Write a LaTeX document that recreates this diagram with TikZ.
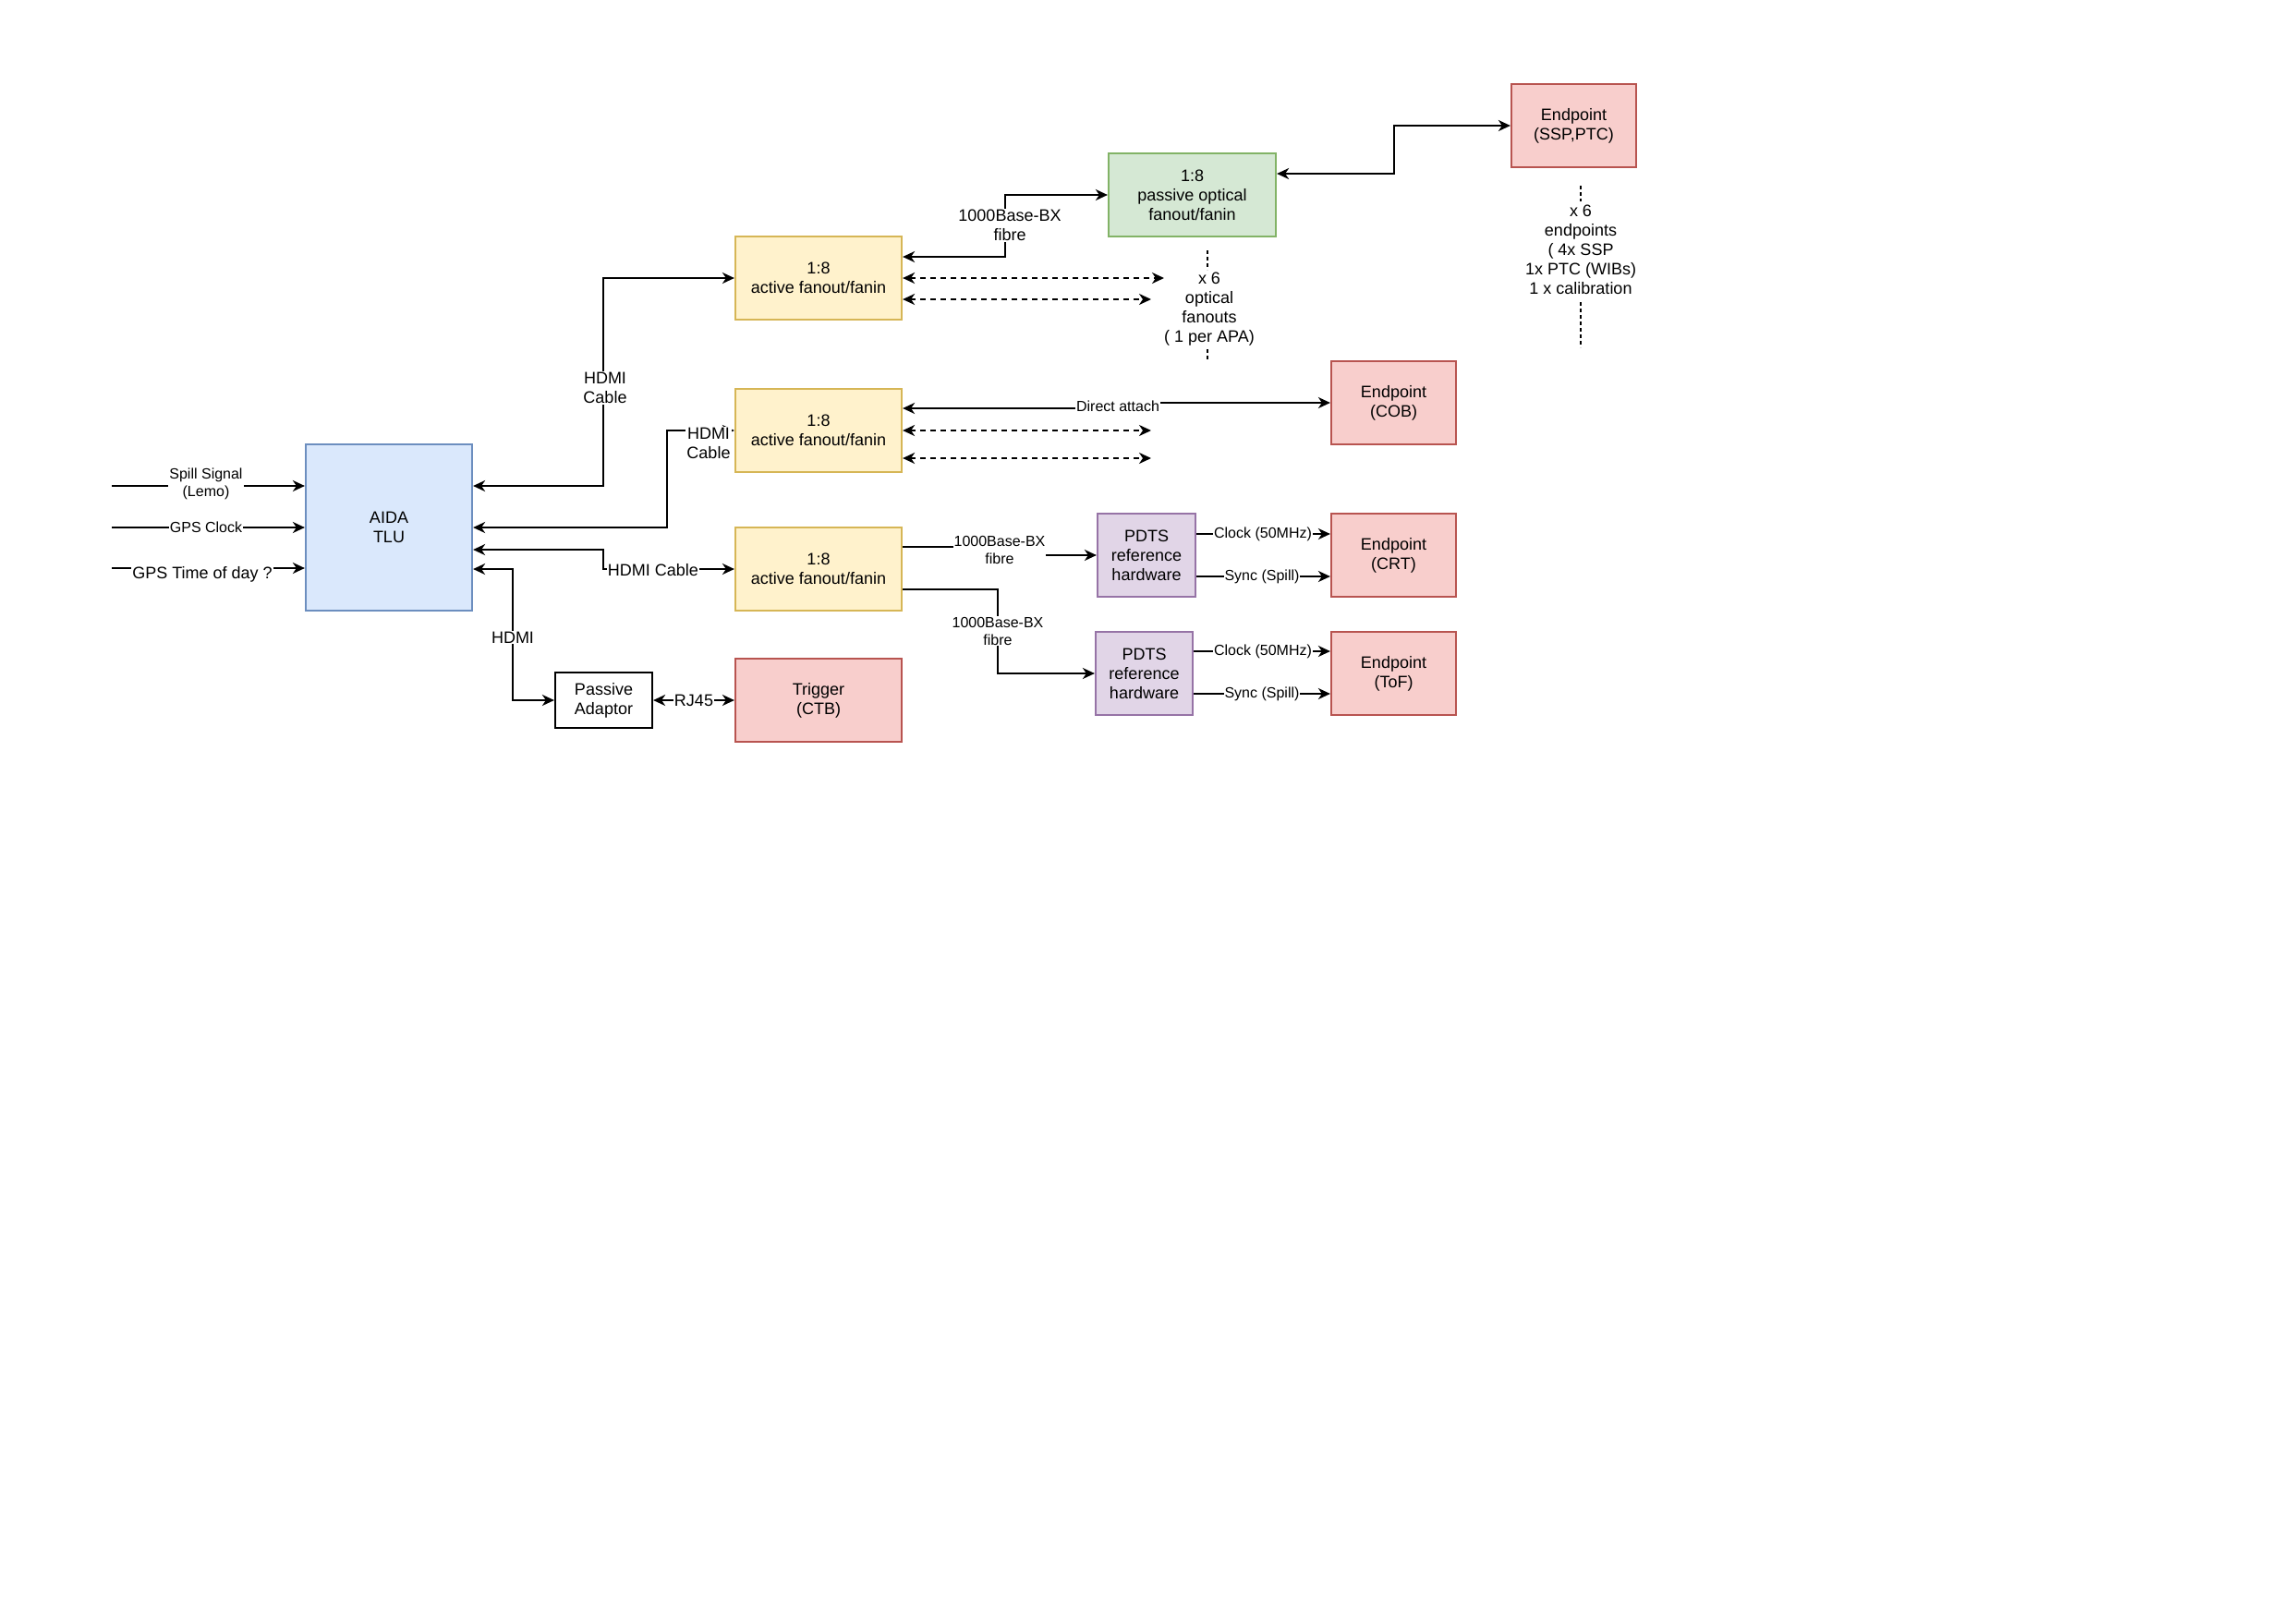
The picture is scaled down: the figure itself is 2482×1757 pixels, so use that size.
\documentclass[tikz,border=0pt]{standalone}
\usepackage{fontspec}
\setmainfont{Liberation Sans}
\usetikzlibrary{arrows.meta,calc}
\definecolor{bluef}{HTML}{DAE8FC}\definecolor{blued}{HTML}{6C8EBF}
\definecolor{yelf}{HTML}{FFF2CC}\definecolor{yeld}{HTML}{D6B656}
\definecolor{grnf}{HTML}{D5E8D4}\definecolor{grnd}{HTML}{82B366}
\definecolor{redf}{HTML}{F8CECC}\definecolor{redd}{HTML}{B85450}
\definecolor{purf}{HTML}{E1D5E7}\definecolor{purd}{HTML}{9673A6}
\tikzset{
  box/.style={draw, line width=2.2pt, align=center, font=\fontsize{18}{21}\selectfont, inner sep=0pt, minimum width=180pt, minimum height=90pt},
  bluebox/.style={box, fill=bluef, draw=blued},
  yelbox/.style={box, fill=yelf, draw=yeld},
  grnbox/.style={box, fill=grnf, draw=grnd},
  redbox/.style={box, fill=redf, draw=redd},
  purbox/.style={box, fill=purf, draw=purd, minimum width=105pt},
  epbox/.style={redbox, minimum width=135pt},
  plainbox/.style={box, fill=white, draw=black, minimum width=105pt, minimum height=60pt},
  tip/.style={},
  conn/.style={line width=2pt, line join=miter},
  arr/.style={conn, -{Stealth[length=13pt,width=12pt,inset=4pt]}},
  biarr/.style={conn, {Stealth[length=13pt,width=12pt,inset=4pt]}-{Stealth[length=13pt,width=12pt,inset=4pt]}},
  dasharr/.style={biarr, dash pattern=on 6pt off 5pt},
  dotline/.style={line width=2pt, dash pattern=on 4pt off 3pt},
  lbl/.style={fill=white, inner sep=1pt, align=center, font=\fontsize{16}{19}\selectfont},
  lblb/.style={lbl, font=\fontsize{18}{21}\selectfont},
  note/.style={align=center, inner sep=0pt, font=\fontsize{18}{21}\selectfont},
}
\begin{document}
\begin{tikzpicture}[x=1pt,y=-1pt]
\useasboundingbox[fill=white] (0,0) rectangle (2482,1757);

% boxes
\node[bluebox, minimum height=180pt] (tlu) at (421,571) {AIDA\\TLU};
\node[yelbox] (f1) at (886,301) {1:8\\active fanout/fanin};
\node[yelbox] (f2) at (886,466) {1:8\\active fanout/fanin};
\node[yelbox] (f3) at (886,616) {1:8\\active fanout/fanin};
\node[redbox] (ctb) at (886,758) {Trigger\\(CTB)};
\node[plainbox] (pa) at (653.5,758) {Passive\\Adaptor};
\node[grnbox, minimum width=181pt] (po) at (1290.5,211) {1:8\\passive optical\\fanout/fanin};
\node[epbox] (essp) at (1703.5,136) {Endpoint\\(SSP,PTC)};
\node[epbox] (ecob) at (1508.5,436) {Endpoint\\(COB)};
\node[purbox, minimum width=106pt] (pd1) at (1241,601) {PDTS\\reference\\hardware};
\node[epbox] (ecrt) at (1508.5,601) {Endpoint\\(CRT)};
\node[purbox] (pd2) at (1238.5,729) {PDTS\\reference\\hardware};
\node[epbox] (etof) at (1508.5,729) {Endpoint\\(ToF)};

% inputs to TLU
\coordinate (s1) at (121,526);
\coordinate (s2) at (121,571);
\coordinate (s3) at (121,615);
\draw[arr] (s1) -- (s1 -| tlu.west);
\draw[arr] (s2) -- (s2 -| tlu.west);
\draw[arr] (s3) -- (s3 -| tlu.west);
\node[lbl] (ls1) at (223,524) {Spill Signal\\(Lemo)};
\node[lbl] (ls2) at (223,571) {GPS Clock};
\node[lblb] (ls3) at (219,622) {GPS Time of day ?};

% TLU to fanouts
\draw[biarr] ([yshift=45pt]tlu.east) -| (653,301) -- (f1.west);
\node[lblb] (lh1) at (655,420) {HDMI\\Cable};
\draw[biarr] (tlu.east) -| (722,466) -- (f2.west);
\node[lblb] (lh2) at (767,480) {HDMI\\Cable};
\draw[biarr] ([yshift=-24pt]tlu.east) -| (653,616) -- (f3.west);
\node[lblb] (lh3) at (707,617) {HDMI Cable};
\draw[biarr] ([yshift=-45pt]tlu.east) -| (555,758) -- (pa.west);
\node[lblb] (lh4) at (555,690) {HDMI};
\draw[biarr] (pa.east) -- (ctb.west);
\node[lblb] (lrj) at (751,758) {RJ45};

% top fanout
\draw[biarr] ([yshift=23pt]f1.east) -| (1088,211) -- (po.west);
\node[lblb] (lfb1) at (1093,244) {1000Base-BX\\fibre};
\draw[biarr] ([yshift=23pt]po.east) -| (1509,136) -- (essp.west);
\coordinate (d1) at (1260,301);
\coordinate (d2) at (1246,324);
\draw[dasharr] (f1.east) -- (d1);
\draw[dasharr] (d2 -| f1.east) -- (d2);

% second fanout
\draw[biarr] ([yshift=24pt]f2.east) -- (1210,442) -- (1210,436) -- (ecob.west);
\node[lbl] (lda) at (1210,440) {Direct attach};
\coordinate (d3) at (1246,466);
\coordinate (d4) at (1246,496);
\draw[dasharr] (f2.east) -- (d3);
\draw[dasharr] (d4 -| f2.east) -- (d4);

% third fanout
\draw[arr] ([yshift=24pt]f3.east) -- (1080,592) |- (pd1.west);
\node[lbl] (lfb2) at (1082,595) {1000Base-BX\\fibre};
\draw[arr] ([yshift=-22pt]f3.east) -| (1080,729) -- (pd2.west);
\node[lbl] (lfb3) at (1080,683) {1000Base-BX\\fibre};

% PDTS to endpoints
\draw[arr] ([yshift=23pt]pd1.east) -- ([yshift=23pt]ecrt.west);
\node[lbl] (lc1) at (1367,578) {Clock (50MHz)};
\draw[arr] ([yshift=-23pt]pd1.east) -- ([yshift=-23pt]ecrt.west);
\node[lbl] (ly1) at (1366,624) {Sync (Spill)};
\draw[arr] ([yshift=24pt]pd2.east) -- ([yshift=24pt]etof.west);
\node[lbl] (lc2) at (1367,705) {Clock (50MHz)};
\draw[arr] ([yshift=-22pt]pd2.east) -- ([yshift=-22pt]etof.west);
\node[lbl] (ly2) at (1366,751) {Sync (Spill)};

% notes
\draw[dotline] (1307,271) -- (1307,292);
\draw[dotline] (1307,378) -- (1307,391);
\node[note] (n1) at (1309,335) {x 6\\optical\\fanouts\\( 1 per APA)};
\draw[dotline] (1711,201) -- (1711,218);
\draw[dotline] (1711,327) -- (1711,376);
\node[note] (n2) at (1711,270) {x 6\\endpoints\\( 4x SSP\\1x PTC (WIBs)\\1 x calibration};
\end{tikzpicture}
\end{document}
